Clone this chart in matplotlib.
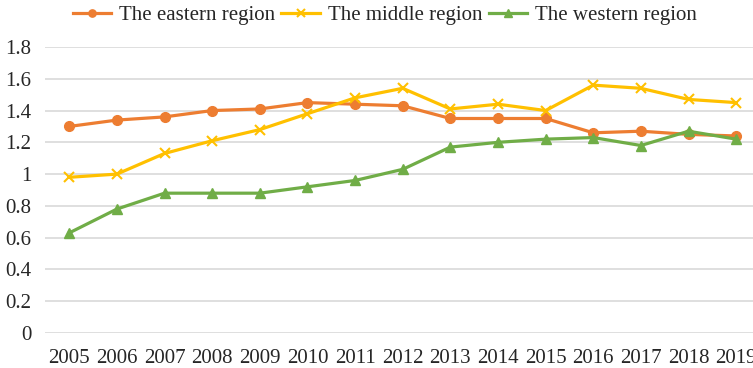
import matplotlib
matplotlib.use("Agg")
import matplotlib.pyplot as plt
from matplotlib.ticker import FuncFormatter

years = [str(y) for y in range(2005, 2020)]
eastern = [1.30, 1.34, 1.36, 1.40, 1.41, 1.45, 1.44, 1.43, 1.35, 1.35, 1.35, 1.26, 1.27, 1.25, 1.24]
middle = [0.98, 1.00, 1.13, 1.21, 1.28, 1.38, 1.48, 1.54, 1.41, 1.44, 1.40, 1.56, 1.54, 1.47, 1.45]
western = [0.63, 0.78, 0.88, 0.88, 0.88, 0.92, 0.96, 1.03, 1.17, 1.20, 1.22, 1.23, 1.18, 1.27, 1.22]
series_names = ["The eastern region", "The middle region", "The western region"]
y_ticks = [0, 0.2, 0.4, 0.6, 0.8, 1.0, 1.2, 1.4, 1.6, 1.8]

plt.rcParams["font.family"] = ["Liberation Serif", "DejaVu Serif"]

fig = plt.figure(figsize=(7.53, 3.68), dpi=100)
ax = fig.add_axes([0.0603, 0.0951, 0.949, 0.7772])

x = list(range(len(years)))
ax.plot(x, eastern, color="#ED7D31", lw=2.3, marker="o", ms=7, label=series_names[0])
ax.plot(x, middle, color="#FFC000", lw=2.3, marker="x", ms=7, mew=1.5, label=series_names[1])
ax.plot(x, western, color="#70AD47", lw=2.3, marker="^", ms=7, label=series_names[2])

ax.set_xlim(-0.5, len(years) - 0.5)
ax.set_ylim(0, 1.8)
ax.set_xticks(x)
ax.set_xticklabels(years)
ax.set_yticks(y_ticks)
ax.yaxis.set_major_formatter(FuncFormatter(lambda v, p: f"{v:g}"))
ax.tick_params(axis="both", length=0, labelsize=15, colors="#262626")
ax.tick_params(axis="x", pad=11.5)
ax.tick_params(axis="y", pad=10)
ax.grid(axis="y", color="#D9D9D9", lw=1.2)
ax.set_axisbelow(True)
for s in ax.spines.values():
    s.set_visible(False)

leg = fig.legend(loc="center", bbox_to_anchor=(0.511, 0.959), ncol=3, frameon=False,
                 fontsize=15, handlelength=1.85, handletextpad=0.38, columnspacing=0.3,
                 markerscale=0.75, labelcolor="#262626")

fig.savefig("out.png", dpi=100, facecolor="white")
